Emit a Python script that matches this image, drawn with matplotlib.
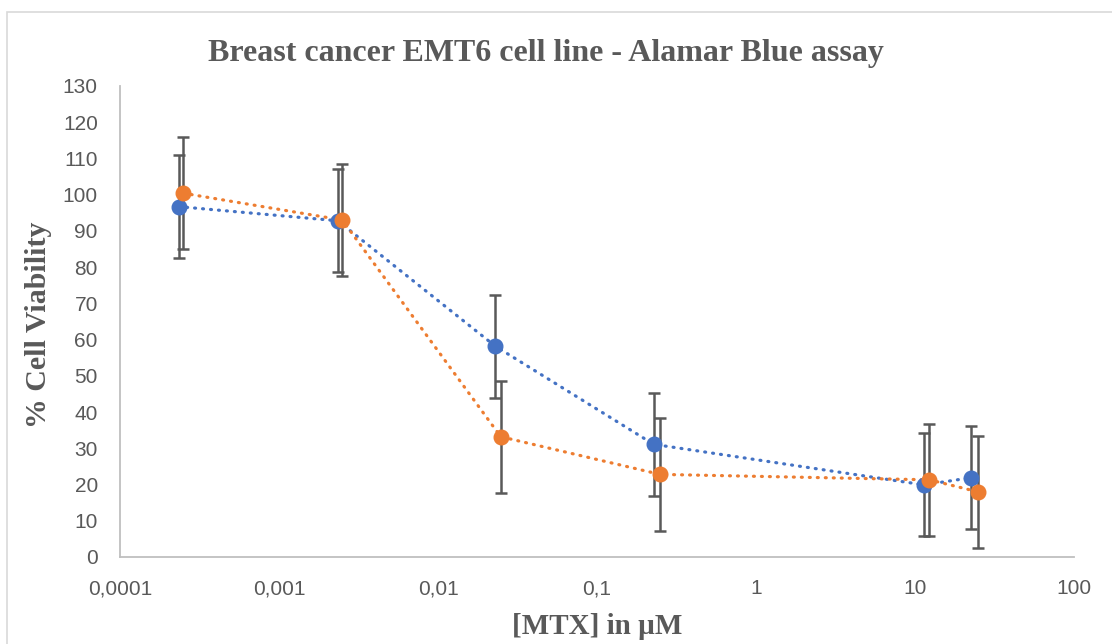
import matplotlib

matplotlib.use("Agg")
import matplotlib.pyplot as plt
from matplotlib.patches import Rectangle

# concentrations in uM
blue_conc = [0.000234, 0.00234, 0.0229, 0.227, 11.4, 22.6]
orange_conc = [0.00025, 0.0025, 0.0248, 0.249, 12.3, 24.8]

blue_viability = [96.7, 92.8, 58.2, 31.1, 19.9, 21.9]
orange_viability = [100.4, 93.0, 33.2, 22.8, 21.3, 18.0]

blue_err = [14.2, 14.2, 14.2, 14.2, 14.2, 14.2]
orange_err = [15.5, 15.5, 15.5, 15.5, 15.5, 15.5]

x_ticks = [0.0001, 0.001, 0.01, 0.1, 1, 10, 100]
x_tick_labels = ["0,0001", "0,001", "0,01", "0,1", "1", "10", "100"]
y_ticks = list(range(0, 131, 10))

BLUE = "#4472C4"
ORANGE = "#ED7D31"
TEXT = "#595959"
ERR = "#595959"

fig = plt.figure(figsize=(11.12, 6.44), dpi=100)
ax = fig.add_axes([0.1079, 0.1351, 0.858, 0.7314])

# chart frame
fig.patches.append(Rectangle((7 / 1112, -0.01), 1.2, 1 - 12 / 644 + 0.01,
                             transform=fig.transFigure, fill=False,
                             edgecolor="#D9D9D9", linewidth=1.2))

for conc, vals, err, color in [(blue_conc, blue_viability, blue_err, BLUE),
                               (orange_conc, orange_viability, orange_err, ORANGE)]:
    ax.errorbar(conc, vals, yerr=err, fmt="none", ecolor=ERR, elinewidth=1.8,
                capsize=4.5, capthick=1.8, zorder=2)
    ax.plot(conc, vals, linestyle=(0, (0.3, 2.2)), dash_capstyle="round",
            color=color, linewidth=2.3, zorder=3)
    ax.plot(conc, vals, linestyle="none", marker="o", markersize=10.5,
            color=color, zorder=4)

ax.set_xscale("log")
ax.set_xlim(x_ticks[0], x_ticks[-1])
ax.set_ylim(0, 130)
ax.set_xticks(x_ticks)
ax.set_xticklabels(x_tick_labels)
ax.xaxis.set_minor_locator(matplotlib.ticker.NullLocator())
ax.set_yticks(y_ticks)

ax.tick_params(axis="both", length=0, labelsize=15, labelcolor=TEXT,
               labelfontfamily="Liberation Sans")
ax.tick_params(axis="x", pad=16)
ax.tick_params(axis="y", pad=16)

for side in ["top", "right"]:
    ax.spines[side].set_visible(False)
ax.spines["left"].set_color("#BFBFBF")
ax.spines["bottom"].set_color("#BFBFBF")
ax.spines["left"].set_linewidth(1.3)
ax.spines["bottom"].set_linewidth(1.3)

serif = {"family": "Liberation Serif", "weight": "bold", "color": TEXT}
fig.text(546 / 1112, 1 - 54 / 644, "Breast cancer EMT6 cell line - Alamar Blue assay",
         ha="center", va="center", fontsize=23, **serif)
fig.text(39 / 1112, 1 - 325 / 644, "% Cell Viability", rotation=90,
         ha="center", va="center", fontsize=21.5, **serif)
fig.text(597 / 1112, 1 - 627 / 644, "[MTX] in µM",
         ha="center", va="center", fontsize=21, **serif)

fig.savefig("out.png", dpi=100)
